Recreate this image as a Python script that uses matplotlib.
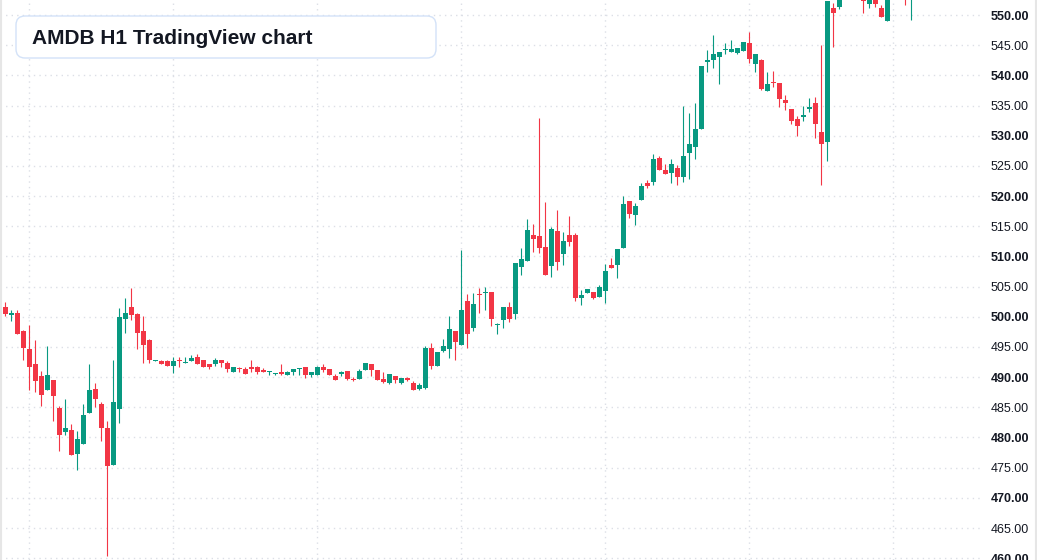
import numpy as np
import matplotlib.pyplot as plt
from matplotlib.patches import FancyBboxPatch
from matplotlib.transforms import IdentityTransform

plt.rcParams['font.family'] = ['Liberation Sans', 'DejaVu Sans']

# hourly OHLC values
opens = [501.7, 500.3, 500.7, 497.6, 494.7, 492.2, 490.2, 487.8, 489.6, 484.9,
         480.9, 481.2, 477.3, 478.9, 484.1, 488.1, 485.6, 481.6, 475.4, 484.8,
         499.6, 501.7, 500.4, 497.6, 496.1, 492.6, 492.6, 492.6, 491.9, 492.8,
         492.4, 492.7, 493.3, 492.9, 492.1, 492.1, 492.9, 492.4, 490.9, 491.4,
         491.4, 491.6, 491.7, 491.2, 490.8, 490.6, 490.8, 490.3, 490.9, 491.4,
         491.6, 490.3, 490.4, 491.7, 491.4, 490.2, 490.6, 491.1, 489.7, 489.7,
         491.2, 492.2, 491.2, 489.7, 489.1, 490.2, 489.1, 489.9, 489.1, 488.1,
         488.2, 494.9, 491.9, 494.4, 494.6, 497.7, 495.4, 502.7, 498.2, 503.7,
         504.0, 504.1, 498.6, 499.4, 501.6, 500.4, 508.2, 509.3, 513.6, 513.4,
         511.6, 508.4, 514.2, 510.4, 513.6, 513.6, 503.1, 503.9, 504.1, 503.3,
         504.3, 508.6, 508.6, 511.4, 519.2, 516.9, 519.4, 522.2, 522.4, 526.4,
         524.4, 523.8, 524.7, 523.2, 527.2, 528.2, 531.1, 542.3, 542.6, 543.1,
         544.2, 543.9, 543.7, 544.1, 545.3, 541.9, 542.5, 537.4, 538.8, 538.7,
         536.0, 534.5, 532.7, 533.1, 534.4, 535.5, 530.7, 528.9, 551.2, 551.4,
         553.8, 555.2, 554.0, 553.6, 551.9, 553.3, 551.2, 549.1, 554.2, 555.0,
         553.9, 552.6]
highs = [502.5, 501.2, 501.2, 497.8, 498.7, 496.2, 491.1, 495.2, 489.6, 485.2,
         486.4, 482.2, 481.1, 485.6, 492.1, 489.1, 485.9, 482.7, 492.9, 501.4,
         503.2, 504.7, 500.7, 500.2, 496.4, 492.9, 492.9, 492.8, 493.3, 493.3,
         493.4, 493.6, 493.9, 492.9, 492.2, 493.2, 492.9, 492.6, 491.7, 491.6,
         491.6, 492.9, 491.9, 491.5, 491.1, 490.7, 492.2, 491.1, 491.4, 491.5,
         491.6, 490.9, 491.9, 492.1, 491.4, 490.6, 491.1, 491.1, 490.0, 491.3,
         492.4, 492.2, 491.2, 490.9, 490.6, 490.2, 489.9, 490.1, 489.3, 489.0,
         495.2, 495.7, 494.2, 496.4, 500.2, 497.7, 511.1, 503.7, 503.9, 504.7,
         504.9, 504.1, 498.9, 501.7, 502.4, 508.9, 511.4, 516.2, 515.4, 532.9,
         519.1, 514.9, 517.7, 514.1, 516.7, 513.9, 504.4, 504.6, 504.1, 505.2,
         508.7, 509.7, 511.2, 520.1, 519.2, 518.9, 522.2, 522.6, 526.9, 526.7,
         525.4, 526.2, 525.1, 535.0, 533.8, 535.5, 541.5, 544.2, 546.7, 543.8,
         545.3, 545.8, 544.5, 545.5, 547.2, 543.5, 542.7, 540.5, 540.7, 538.7,
         536.7, 534.5, 533.3, 535.0, 536.2, 536.5, 545.1, 552.4, 552.0, 554.5,
         556.0, 556.5, 555.5, 554.0, 553.5, 553.8, 551.7, 555.0, 556.0, 556.2,
         554.5, 553.2]
lows = [500.2, 499.3, 497.1, 492.8, 487.8, 487.6, 485.3, 487.8, 482.8, 477.7,
        480.4, 477.1, 474.6, 478.9, 484.1, 485.0, 479.4, 460.4, 475.4, 482.4,
        497.4, 499.4, 494.6, 492.4, 492.4, 492.6, 492.1, 491.8, 490.7, 491.6,
        492.4, 492.7, 492.2, 491.7, 491.4, 491.9, 491.7, 490.9, 490.9, 490.8,
        490.6, 490.8, 490.6, 490.8, 490.3, 490.3, 490.4, 490.3, 490.4, 490.3,
        489.9, 490.1, 490.4, 490.9, 490.4, 489.6, 490.2, 489.6, 489.3, 489.7,
        491.2, 490.2, 489.6, 489.1, 488.9, 489.1, 488.8, 489.3, 487.9, 487.9,
        488.0, 491.3, 491.9, 494.1, 493.1, 492.9, 495.4, 494.9, 497.7, 500.7,
        501.1, 498.4, 497.1, 498.2, 499.2, 499.6, 506.9, 509.3, 510.7, 510.6,
        506.9, 506.6, 507.8, 508.6, 511.8, 502.6, 501.9, 503.9, 502.9, 503.3,
        502.3, 508.1, 506.4, 511.4, 516.4, 515.2, 519.4, 521.4, 521.9, 524.4,
        523.6, 522.1, 521.9, 522.4, 522.9, 526.2, 531.1, 540.6, 541.2, 538.6,
        543.5, 543.9, 543.6, 544.1, 542.1, 540.6, 537.6, 537.4, 538.1, 534.7,
        534.2, 531.9, 529.9, 532.4, 533.9, 529.6, 521.9, 525.9, 544.7, 551.0,
        553.0, 553.5, 553.0, 550.3, 551.2, 551.4, 549.6, 549.1, 553.4, 553.5,
        551.7, 549.2]
closes = [500.4, 500.7, 497.1, 494.8, 491.6, 489.3, 487.1, 490.4, 486.8, 480.4,
          481.6, 477.1, 479.7, 483.7, 487.9, 486.3, 481.6, 475.3, 485.8, 500.0,
          500.7, 500.3, 497.4, 495.4, 492.9, 492.8, 492.2, 491.8, 492.6, 492.6,
          492.5, 493.1, 492.2, 491.7, 491.6, 492.9, 492.3, 491.4, 491.6, 491.3,
          490.6, 491.4, 490.9, 490.8, 491.1, 490.7, 490.6, 490.9, 491.4, 491.5,
          490.4, 490.9, 491.7, 491.2, 490.4, 489.6, 490.8, 489.7, 489.6, 491.1,
          492.4, 491.2, 489.6, 489.2, 490.6, 489.6, 489.9, 489.6, 487.9, 488.7,
          494.9, 491.9, 494.1, 495.2, 497.9, 495.9, 501.2, 497.2, 502.1, 503.6,
          504.1, 499.6, 498.8, 501.6, 499.6, 508.9, 509.6, 514.4, 512.9, 511.4,
          506.9, 514.6, 509.1, 512.6, 512.4, 503.1, 503.6, 504.6, 503.1, 504.9,
          507.6, 508.1, 511.2, 518.7, 517.1, 518.4, 521.6, 521.7, 526.2, 524.4,
          523.6, 525.4, 523.1, 526.7, 528.7, 531.2, 541.5, 542.5, 543.5, 543.8,
          544.3, 544.3, 544.5, 545.5, 542.7, 543.5, 537.7, 538.5, 538.7, 536.1,
          535.4, 532.4, 531.6, 533.5, 534.8, 531.9, 528.7, 552.4, 550.4, 553.8,
          555.2, 554.0, 553.6, 552.4, 553.3, 551.9, 549.7, 554.2, 555.0, 553.9,
          553.0, 552.7]

price_ticks = np.arange(460, 551, 5)
day_starts = [4, 28, 52, 76, 100, 124, 148]

o = np.array(opens)
h = np.array(highs)
l = np.array(lows)
c = np.array(closes)
idx = np.arange(len(o))
cols = np.where(c >= o, '#089981', '#f23645')

fig = plt.figure(figsize=(10.37, 5.6), dpi=100)
ax = fig.add_axes([0, 0, 981 / 1037, 1])

ax.vlines(idx, l, h, colors=cols, linewidth=0.8)
ax.bar(idx, np.maximum(np.abs(c - o), 0.17), bottom=np.minimum(o, c),
       width=0.8, color=cols, linewidth=0)

ax.set_xlim(-5.3 / 6, (981 - 5.3) / 6)
ax.set_ylim(459.7, 552.5)

ax.set_xticks(day_starts)
ax.set_yticks(price_ticks)
ax.grid(True, color='#dcdfe6', linestyle=(0, (1, 3)), linewidth=1)
ax.set_axisbelow(True)
for s in ax.spines.values():
    s.set_visible(False)

ax.yaxis.tick_right()
ax.set_yticklabels([f'{v:.2f}' for v in price_ticks])
for v, lab in zip(price_ticks, ax.get_yticklabels()):
    if v % 10 == 0:
        lab.set_fontweight('bold')
ax.tick_params(axis='y', length=0, pad=7, labelsize=9, labelcolor='#131722')
ax.tick_params(axis='x', length=0, labelbottom=False)

# title box in pixel coordinates
box = FancyBboxPatch((16, 560 - 58), 420, 42,
                     boxstyle='round,pad=0,rounding_size=9',
                     transform=IdentityTransform(), facecolor='white',
                     edgecolor='#d3e2f8', linewidth=1, zorder=5)
fig.patches.append(box)
fig.text(32 / 1037, 1 - 44.5 / 560, 'AMDB H1 TradingView chart', fontsize=15,
         fontweight='bold', color='#131722', va='baseline', ha='left', zorder=6)

# thin page edges
fig.add_artist(plt.Line2D([0.5 / 1037, 0.5 / 1037], [0, 1], color='#e6e6e6',
                          linewidth=1.5, transform=fig.transFigure))
fig.add_artist(plt.Line2D([1036 / 1037, 1036 / 1037], [0, 1], color='#e6e6e6',
                          linewidth=1.5, transform=fig.transFigure))

fig.savefig('out.png', dpi=100)
